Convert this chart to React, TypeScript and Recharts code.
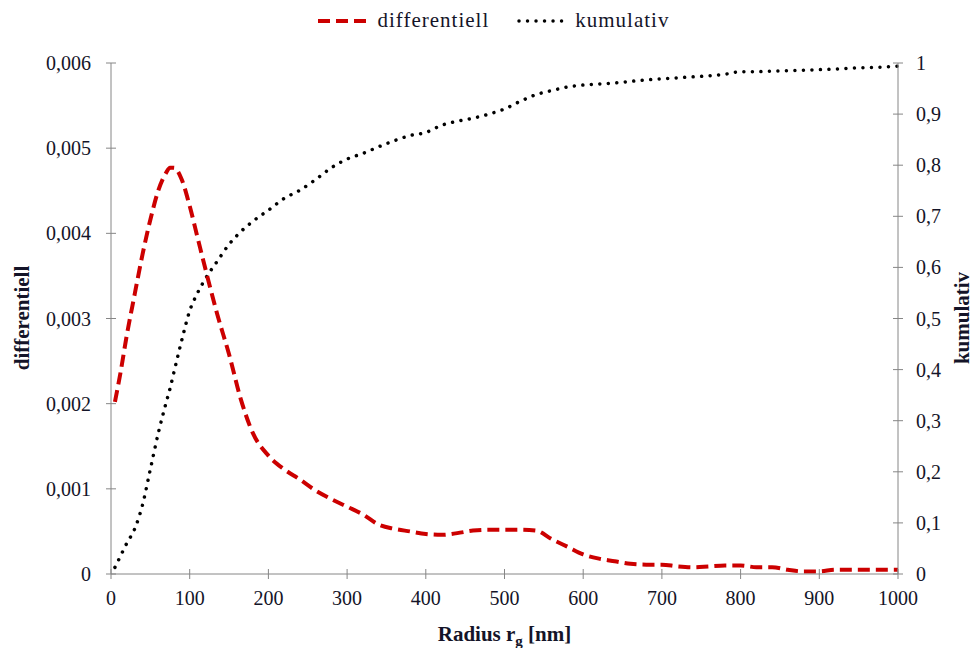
import React from 'react';
import { LineChart, Line, XAxis, YAxis, Legend } from 'recharts';

const radius = [5, 12, 20, 30, 40, 50, 60, 70, 75, 80, 90, 100, 110, 120, 135, 150, 165, 180, 200, 220, 240, 260, 280, 300, 320, 340, 360, 380, 400, 420, 440, 460, 480, 500, 520, 540, 560, 580, 600, 620, 640, 660, 680, 700, 720, 740, 760, 780, 800, 820, 840, 860, 880, 900, 920, 940, 960, 980, 1000];

const differentiell = [0.00202, 0.00236, 0.0028, 0.00328, 0.00375, 0.00416, 0.0045, 0.00471, 0.00477, 0.00477, 0.00463, 0.00432, 0.00395, 0.00358, 0.00305, 0.00258, 0.00205, 0.00166, 0.00139, 0.00123, 0.00111, 0.00098, 0.00088, 0.00079, 0.0007, 0.00058, 0.00053, 0.0005, 0.00047, 0.00046, 0.00048, 0.00051, 0.00052, 0.00052, 0.00052, 0.00051, 0.00041, 0.00032, 0.00023, 0.00018, 0.00015, 0.00012, 0.00011, 0.00011, 0.00009, 0.00008, 0.00009, 0.0001, 0.0001, 0.00008, 0.00008, 0.00005, 0.00003, 0.00003, 0.00005, 0.00005, 0.00005, 0.00005, 0.00005];

const kumulativ = [0.013, 0.035, 0.06, 0.088, 0.135, 0.205, 0.275, 0.335, 0.363, 0.395, 0.458, 0.515, 0.55, 0.578, 0.612, 0.645, 0.67, 0.69, 0.712, 0.735, 0.751, 0.772, 0.795, 0.812, 0.823, 0.836, 0.848, 0.858, 0.864, 0.878, 0.886, 0.892, 0.9, 0.91, 0.925, 0.938, 0.946, 0.953, 0.957, 0.959, 0.961, 0.964, 0.967, 0.969, 0.971, 0.973, 0.975, 0.978, 0.983, 0.983, 0.984, 0.985, 0.986, 0.987, 0.988, 0.99, 0.991, 0.992, 0.994];

const xTicks = [0, 100, 200, 300, 400, 500, 600, 700, 800, 900, 1000];
const leftTicks = [0, 0.001, 0.002, 0.003, 0.004, 0.005, 0.006];
const rightTicks = [0, 0.1, 0.2, 0.3, 0.4, 0.5, 0.6, 0.7, 0.8, 0.9, 1];

const seriesNames = { d: 'differentiell', k: 'kumulativ' };
const xTitle = { main: 'Radius r', sub: 'g', rest: ' [nm]' };

const data = radius.map((r, i) => ({ r, d: differentiell[i], k: kumulativ[i] }));

const FONT = "'Liberation Serif', 'Times New Roman', serif";
const AXIS = '#868686';
const TEXT = '#141428';
const RED = '#cc0000';
const fmt = (v: number) => String(v).replace('.', ',');

const XTick = (props: any) => {
  const { x, y, payload } = props;
  return (
    <g>
      <line x1={x} x2={x} y1={y - 5} y2={y + 5} stroke={AXIS} strokeWidth={1} />
      <text x={x} y={y + 31} textAnchor="middle" fontSize={20} fontFamily={FONT} fill={TEXT}>
        {fmt(payload.value)}
      </text>
    </g>
  );
};

const LeftTick = (props: any) => {
  const { x, y, payload } = props;
  return (
    <g>
      <line x1={x - 5} x2={x + 5} y1={y} y2={y} stroke={AXIS} strokeWidth={1} />
      <text x={x - 20} y={y + 7} textAnchor="end" fontSize={20} fontFamily={FONT} fill={TEXT}>
        {fmt(payload.value)}
      </text>
    </g>
  );
};

const RightTick = (props: any) => {
  const { x, y, payload } = props;
  return (
    <g>
      <line x1={x - 5} x2={x + 5} y1={y} y2={y} stroke={AXIS} strokeWidth={1} />
      <text x={x + 18} y={y + 7} textAnchor="start" fontSize={20} fontFamily={FONT} fill={TEXT}>
        {fmt(payload.value)}
      </text>
    </g>
  );
};

const LegendContent = () => (
  <div style={{ display: 'flex', justifyContent: 'center', alignItems: 'center', fontFamily: FONT, fontSize: 21, color: TEXT, letterSpacing: 1, paddingLeft: 13 }}>
    <svg width={48} height={10} style={{ marginRight: 12 }}>
      <line x1={0} x2={48} y1={5} y2={5} stroke={RED} strokeWidth={4} strokeDasharray="12 6" />
    </svg>
    <span style={{ marginRight: 28 }}>{seriesNames.d}</span>
    <svg width={50} height={10} style={{ marginRight: 8 }}>
      <line x1={2} x2={49} y1={5} y2={5} stroke="#000" strokeWidth={3.5} strokeDasharray="0.01 8.5" strokeLinecap="round" />
    </svg>
    <span>{seriesNames.k}</span>
  </div>
);

const XTitle = (props: any) => {
  const vb = props.viewBox || {};
  const cx = (vb.x ?? 111) + (vb.width ?? 787) / 2;
  return (
    <text x={cx} y={641} textAnchor="middle" fontSize={21} fontWeight="bold" fontFamily={FONT} fill={TEXT}>
      {xTitle.main}
      <tspan fontSize={15} dy={5}>{xTitle.sub}</tspan>
      <tspan dy={-5}>{xTitle.rest}</tspan>
    </text>
  );
};

const LeftTitle = () => (
  <text x={0} y={0} transform="translate(29,318) rotate(-90)" textAnchor="middle" fontSize={21} fontWeight="bold" fontFamily={FONT} fill={TEXT}>
    {seriesNames.d}
  </text>
);

const RightTitle = () => (
  <text x={0} y={0} transform="translate(969,318) rotate(-90)" textAnchor="middle" fontSize={21} fontWeight="bold" fontFamily={FONT} fill={TEXT}>
    {seriesNames.k}
  </text>
);

export default function App() {
  return (
    <div style={{ position: 'absolute', left: 0, top: 0, width: 974, height: 648, background: '#fff' }}>
      <LineChart width={974} height={648} data={data} margin={{ top: 63, right: 0, bottom: 0, left: 0 }}>
        <XAxis
          dataKey="r"
          type="number"
          domain={[0, 1000]}
          ticks={xTicks}
          height={74}
          axisLine={{ stroke: AXIS, strokeWidth: 1 }}
          tickLine={false}
          tickSize={0}
          tickMargin={0}
          tick={<XTick />}
          interval={0}
          label={{ content: <XTitle /> }}
        />
        <YAxis
          yAxisId="left"
          orientation="left"
          domain={[0, 0.006]}
          ticks={leftTicks}
          width={111}
          axisLine={{ stroke: AXIS, strokeWidth: 1 }}
          tickLine={false}
          tickSize={0}
          tickMargin={0}
          tick={<LeftTick />}
          interval={0}
          label={{ content: <LeftTitle /> }}
        />
        <YAxis
          yAxisId="right"
          orientation="right"
          domain={[0, 1]}
          ticks={rightTicks}
          width={76}
          axisLine={{ stroke: AXIS, strokeWidth: 1 }}
          tickLine={false}
          tickSize={0}
          tickMargin={0}
          tick={<RightTick />}
          interval={0}
          label={{ content: <RightTitle /> }}
        />
        <Legend
          verticalAlign="middle"
          content={<LegendContent />}
          wrapperStyle={{ top: 8, left: 0, width: 974 }}
        />
        <Line
          yAxisId="right"
          dataKey="k"
          name={seriesNames.k}
          type="monotone"
          stroke="#000"
          strokeWidth={3.5}
          strokeDasharray="0.01 8.5"
          strokeLinecap="round"
          dot={false}
          activeDot={false}
          isAnimationActive={false}
        />
        <Line
          yAxisId="left"
          dataKey="d"
          name={seriesNames.d}
          type="monotone"
          stroke={RED}
          strokeWidth={4}
          strokeDasharray="12 6"
          dot={false}
          activeDot={false}
          isAnimationActive={false}
        />
      </LineChart>
    </div>
  );
}
